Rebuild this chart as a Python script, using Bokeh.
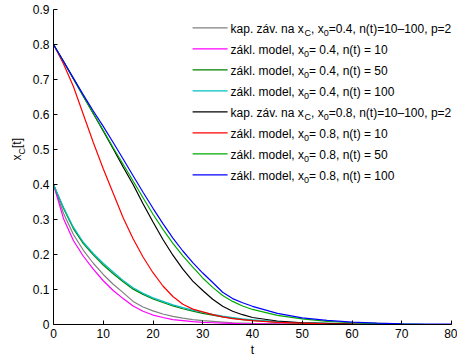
import numpy as np
from bokeh.plotting import figure
from bokeh.layouts import row
from bokeh.models import Label, PolyAnnotation, FixedTicker, Range1d, CustomJSTickFormatter
from bokeh.embed import file_html
from bokeh.resources import INLINE

# ---------------- data ----------------
t = [0, 2, 4, 6, 8, 10, 12, 14, 16, 18, 20, 22, 24, 26, 28, 30, 32, 34, 36, 38, 40,
     45, 50, 55, 60, 65, 70, 75, 80]

kap_04 = [0.400, 0.318, 0.257, 0.212, 0.175, 0.143, 0.115, 0.091, 0.066, 0.050, 0.039,
          0.030, 0.023, 0.018, 0.014, 0.011, 0.009, 0.007, 0.005, 0.004, 0.003,
          0.002, 0.001, 0.000, 0.000, 0.000, 0.000, 0.000, 0.000]
zm_04_10 = [0.400, 0.303, 0.240, 0.195, 0.158, 0.125, 0.097, 0.074, 0.053, 0.038, 0.027,
            0.020, 0.014, 0.011, 0.008, 0.006, 0.005, 0.004, 0.003, 0.002, 0.002,
            0.001, 0.001, 0.000, 0.000, 0.000, 0.000, 0.000, 0.000]
zm_04_50 = [0.400, 0.332, 0.274, 0.231, 0.199, 0.170, 0.145, 0.122, 0.101, 0.086, 0.073,
            0.063, 0.053, 0.045, 0.038, 0.032, 0.027, 0.022, 0.018, 0.014, 0.012,
            0.007, 0.004, 0.002, 0.001, 0.001, 0.000, 0.000, 0.000]
zm_04_100 = [0.400, 0.335, 0.278, 0.235, 0.203, 0.175, 0.150, 0.126, 0.105, 0.089, 0.076,
             0.066, 0.056, 0.048, 0.041, 0.035, 0.029, 0.024, 0.020, 0.016, 0.013,
             0.008, 0.005, 0.003, 0.002, 0.001, 0.001, 0.000, 0.000]
kap_08 = [0.800, 0.752, 0.702, 0.652, 0.603, 0.553, 0.502, 0.450, 0.400, 0.345, 0.293,
          0.243, 0.198, 0.158, 0.124, 0.097, 0.072, 0.052, 0.038, 0.028, 0.020,
          0.010, 0.005, 0.003, 0.001, 0.000, 0.000, 0.000, 0.000]
zm_08_10 = [0.800, 0.745, 0.680, 0.600, 0.520, 0.445, 0.375, 0.305, 0.245, 0.193, 0.148,
            0.110, 0.080, 0.058, 0.044, 0.036, 0.028, 0.022, 0.017, 0.014, 0.011,
            0.006, 0.004, 0.002, 0.001, 0.000, 0.000, 0.000, 0.000]
zm_08_50 = [0.800, 0.752, 0.702, 0.652, 0.603, 0.555, 0.505, 0.458, 0.410, 0.362, 0.315,
            0.272, 0.232, 0.196, 0.164, 0.133, 0.106, 0.083, 0.066, 0.053, 0.043,
            0.026, 0.016, 0.009, 0.005, 0.003, 0.001, 0.000, 0.000]
zm_08_100 = [0.800, 0.752, 0.704, 0.656, 0.610, 0.566, 0.520, 0.473, 0.425, 0.378, 0.332,
             0.288, 0.247, 0.210, 0.177, 0.147, 0.120, 0.092, 0.074, 0.062, 0.052,
             0.032, 0.019, 0.012, 0.007, 0.004, 0.002, 0.001, 0.001]

series = [kap_04, zm_04_10, zm_04_50, zm_04_100, kap_08, zm_08_10, zm_08_50, zm_08_100]
colors = ["#808080", "#ff00ff", "#008000", "#00bfbf", "#000000", "#ff0000", "#00aa00", "#0000ff"]
x0_vals = ["0.4", "0.4", "0.4", "0.4", "0.8", "0.8", "0.8", "0.8"]
n_vals = ["10\u2013100", "10", "50", "100", "10\u2013100", "10", "50", "100"]
is_kap = [True, False, False, False, True, False, False, False]

x_ticks = [0, 10, 20, 30, 40, 50, 60, 70, 80]
x_labels = ["0", "10", "20", "30", "40", "50", "60", "70", "80"]
y_ticks = [0, 0.1, 0.2, 0.3, 0.4, 0.5, 0.6, 0.7, 0.8, 0.9]
y_labels = ["0", "0.1", "0.2", "0.3", "0.4", "0.5", "0.6", "0.7", "0.8", "0.9"]

FONT = "Liberation Sans"
SUB = "9px"
MAIN = "12px"
LW = 26                      # width of the strip holding the y-axis title
W, H = 457 - LW, 360
BL, BR, BT, BB = 53 - LW, 6, 9, 36
FH = H - BT - BB

p = figure(width=W, height=H, output_backend="svg", toolbar_location=None,
           x_range=Range1d(0, 80), y_range=Range1d(0, 0.9),
           min_border_left=BL, min_border_right=BR, min_border_top=BT, min_border_bottom=BB)
p.outline_line_color = None
p.xgrid.visible = False
p.ygrid.visible = False
p.background_fill_color = "white"
p.border_fill_color = "white"

fmt_code = """
let k = -1;
for (let i = 0; i < vals.length; i++) { if (Math.abs(vals[i] - tick) < 1e-9) k = i; }
return k >= 0 ? labels[k] : '';
"""
p.xaxis.ticker = FixedTicker(ticks=x_ticks)
p.yaxis.ticker = FixedTicker(ticks=y_ticks)
p.xaxis.formatter = CustomJSTickFormatter(args=dict(vals=x_ticks, labels=x_labels), code=fmt_code)
p.yaxis.formatter = CustomJSTickFormatter(args=dict(vals=y_ticks, labels=y_labels), code=fmt_code)

for ax in (p.xaxis, p.yaxis):
    ax.major_tick_in = 4
    ax.major_tick_out = 0
    ax.minor_tick_line_color = None
    ax.axis_line_color = "black"
    ax.major_tick_line_color = "black"
    ax.major_label_text_font = FONT
    ax.major_label_text_font_size = "12px"
    ax.major_label_text_color = "black"
    ax.major_label_standoff = 4

p.xaxis.axis_label = "t"
p.xaxis.axis_label_text_font = FONT
p.xaxis.axis_label_text_font_size = "12px"
p.xaxis.axis_label_text_font_style = "normal"
p.xaxis.axis_label_text_color = "black"
p.xaxis.axis_label_standoff = 2

for ys, c in zip(series, colors):
    p.line(t, ys, line_color=c, line_width=1.2)


def lab(fig, x, y, text, size=MAIN, angle=0.0):
    fig.add_layout(Label(x=x, y=y, x_units="screen", y_units="screen", text=text,
                         text_font=FONT, text_font_size=size, text_color="black",
                         text_align="left", text_baseline="alphabetic", angle=angle))

# ---------------- legend (manual, for subscripts) ----------------
SH = -2.5
sw_x0, sw_x1, tx0 = 141.6 + SH, 176.6 + SH, 179.6 + SH
for i in range(8):
    ly = FH - 18.3 - 21 * i
    p.add_layout(PolyAnnotation(xs=[sw_x0, sw_x1], ys=[ly, ly], xs_units="screen", ys_units="screen",
                                line_color=colors[i], line_alpha=1.0, line_width=1.2,
                                fill_alpha=0))
    base = ly - 1
    sub = ly - 5.3
    if is_kap[i]:
        lab(p, tx0, base, "kap. záv. na x")
        lab(p, tx0 + 74.0, sub, "C", SUB)
        lab(p, tx0 + 80.5, base, ", x")
        lab(p, tx0 + 93.2, sub, "0", SUB)
        lab(p, tx0 + 98.2, base, "=" + x0_vals[i] + ", n(t)=" + n_vals[i] + ", p=2")
    else:
        lab(p, tx0, base, "zákl. model, x")
        lab(p, tx0 + 73.4, sub, "0", SUB)
        lab(p, tx0 + 78.4, base, " = " + x0_vals[i] + ", n(t) = " + n_vals[i])

# ---------------- y-axis title x_C[t] in a narrow strip ----------------
q = figure(width=LW, height=H, output_backend="svg", toolbar_location=None,
           x_range=Range1d(0, 1), y_range=Range1d(0, 1),
           x_axis_location=None, y_axis_location=None,
           min_border_left=0, min_border_right=0, min_border_top=0, min_border_bottom=0)
q.grid.visible = False
q.outline_line_color = None
q.background_fill_color = "white"
q.border_fill_color = "white"

cy = H - (BT + FH / 2) - 20
lab(q, 16.7, cy - 9.5, "x", MAIN, np.pi / 2)
lab(q, 21.0, cy - 3.5, "C", SUB, np.pi / 2)
lab(q, 16.7, cy + 3.0, "[t]", MAIN, np.pi / 2)

layout = row(q, p, spacing=0)
open("out.html", "w").write(file_html(layout, INLINE))
